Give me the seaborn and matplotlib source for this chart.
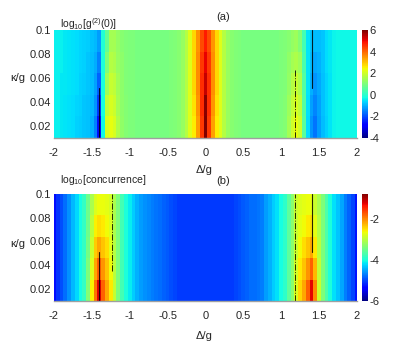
import matplotlib
matplotlib.use("Agg")
import numpy as np
import pandas as pd
import matplotlib.pyplot as plt
import seaborn as sns

sns.set_style("white")
plt.rcParams['font.family'] = ['Liberation Sans', 'DejaVu Sans']
plt.rcParams['mathtext.fontset'] = 'custom'
plt.rcParams['mathtext.rm'] = 'Liberation Sans'
plt.rcParams['mathtext.it'] = 'Liberation Sans'

# detuning grid (columns) and kappa bands (rows, top to bottom)
delta = [round(-2 + 0.05 * i, 2) for i in range(81)]
kappa_top = [0.1, 0.082, 0.064, 0.046, 0.028]
kappa_min = 0.01
kappa_step = 0.018

# (a) log10 g2(0), one row per kappa band
g2_rows = [
    [-0.4, -0.4, -0.4, -0.45, -0.5, -0.55, -0.6, -0.65, -0.7, -0.75,
     -0.85, -0.95, -1.2, -0.1, 0.7, 1.5, 1.5, 1.3, 1.15, 1.05,
     1.0, 1.0, 0.95, 0.95, 0.95, 0.95, 0.95, 0.95, 0.95, 0.95,
     0.95, 1.0, 1.05, 1.15, 1.35, 1.7, 2.2, 2.8, 3.5, 4.3,
     4.8, 4.3, 3.5, 2.8, 2.2, 1.7, 1.35, 1.15, 1.05, 1.0,
     0.95, 0.95, 0.95, 0.95, 0.95, 0.95, 0.95, 0.95, 0.95, 0.95,
     1.0, 1.05, 1.15, 1.3, 1.4, 1.1, 0.3, -0.5, -0.8, -0.9,
     -0.9, -0.8, -0.6, -0.45, -0.35, -0.3, -0.3, -0.3, -0.3, -0.3, -0.3],
    [-0.4, -0.4, -0.4, -0.45, -0.5, -0.55, -0.6, -0.65, -0.7, -0.8,
     -0.9, -1.05, -1.5, -0.15, 1.0, 1.7, 1.6, 1.35, 1.2, 1.05,
     1.0, 1.0, 0.95, 0.95, 0.95, 0.95, 0.95, 0.95, 0.95, 0.95,
     0.95, 1.0, 1.05, 1.15, 1.35, 1.7, 2.2, 2.8, 3.6, 4.5,
     5.1, 4.5, 3.6, 2.8, 2.2, 1.7, 1.35, 1.15, 1.05, 1.0,
     0.95, 0.95, 0.95, 0.95, 0.95, 0.95, 0.95, 0.95, 0.95, 0.95,
     1.0, 1.05, 1.25, 1.5, 1.6, 1.4, 0.4, -0.5, -0.9, -1.1,
     -1.0, -0.8, -0.6, -0.45, -0.35, -0.3, -0.3, -0.3, -0.3, -0.3, -0.3],
    [-0.4, -0.4, -0.45, -0.45, -0.5, -0.55, -0.6, -0.7, -0.75, -0.8,
     -0.9, -1.15, -1.8, -0.2, 1.4, 1.9, 1.8, 1.45, 1.2, 1.05,
     1.0, 1.0, 0.95, 0.95, 0.95, 0.95, 0.95, 0.95, 0.95, 0.95,
     0.95, 1.0, 1.05, 1.15, 1.35, 1.7, 2.2, 2.8, 3.6, 4.6,
     5.4, 4.6, 3.6, 2.8, 2.2, 1.7, 1.35, 1.15, 1.05, 1.0,
     0.95, 0.95, 0.95, 0.95, 0.95, 0.95, 0.95, 0.95, 0.95, 0.95,
     1.0, 1.05, 1.3, 1.7, 1.9, 1.6, 0.5, -0.5, -1.0, -1.3,
     -1.1, -0.85, -0.65, -0.5, -0.35, -0.3, -0.3, -0.3, -0.3, -0.3, -0.3],
    [-0.4, -0.4, -0.45, -0.5, -0.55, -0.6, -0.65, -0.7, -0.8, -0.85,
     -0.95, -1.3, -2.2, -0.25, 1.8, 2.1, 1.95, 1.5, 1.2, 1.1,
     1.0, 1.0, 0.95, 0.95, 0.95, 0.95, 0.95, 0.95, 0.95, 0.95,
     0.95, 1.0, 1.05, 1.15, 1.35, 1.7, 2.2, 2.7, 3.5, 4.6,
     5.9, 4.6, 3.5, 2.7, 2.2, 1.7, 1.35, 1.15, 1.05, 1.0,
     0.95, 0.95, 0.95, 0.95, 0.95, 0.95, 0.95, 0.95, 0.95, 0.95,
     1.0, 1.1, 1.4, 1.85, 2.1, 1.8, 0.55, -0.55, -1.15, -1.45,
     -1.15, -0.85, -0.65, -0.5, -0.35, -0.3, -0.3, -0.3, -0.3, -0.3, -0.3],
    [-0.4, -0.4, -0.45, -0.5, -0.55, -0.6, -0.7, -0.75, -0.8, -0.85,
     -1.0, -1.5, -2.6, -0.3, 2.1, 2.3, 2.1, 1.6, 1.25, 1.1,
     1.0, 1.0, 0.95, 0.95, 0.95, 0.95, 0.95, 0.95, 0.95, 0.95,
     0.95, 1.0, 1.05, 1.15, 1.35, 1.7, 2.2, 2.6, 3.4, 4.5,
     6.5, 4.5, 3.4, 2.6, 2.2, 1.7, 1.35, 1.15, 1.05, 1.0,
     0.95, 0.95, 0.95, 0.95, 0.95, 0.95, 0.95, 0.95, 0.95, 0.95,
     1.0, 1.1, 1.5, 2.0, 2.3, 2.0, 0.6, -0.6, -1.3, -1.6,
     -1.2, -0.9, -0.7, -0.5, -0.35, -0.3, -0.3, -0.3, -0.3, -0.3, -0.3],
]

# (b) log10 concurrence
conc_rows = [
    [-5.3, -5.1, -4.95, -4.8, -4.6, -4.4, -4.25, -4.05, -3.85, -3.5,
     -3.1, -2.8, -2.7, -2.7, -2.75, -2.85, -3.1, -3.4, -3.75, -4.0,
     -4.15, -4.3, -4.45, -4.55, -4.6, -4.65, -4.7, -4.75, -4.8, -4.85,
     -4.9, -4.95, -5.0, -5.05, -5.05, -5.05, -5.05, -5.05, -5.05, -5.05,
     -5.05, -5.05, -5.05, -5.05, -5.05, -5.05, -5.05, -5.05, -5.0, -4.95,
     -4.9, -4.85, -4.8, -4.8, -4.75, -4.7, -4.55, -4.45, -4.3, -4.2,
     -4.05, -3.9, -3.6, -3.3, -2.9, -2.8, -2.75, -2.7, -2.7, -2.9,
     -3.1, -3.4, -3.7, -4.0, -4.2, -4.35, -4.5, -4.7, -4.85, -5.0, -5.25],
    [-5.3, -5.1, -4.95, -4.8, -4.6, -4.4, -4.25, -4.05, -3.85, -3.5,
     -3.0, -2.6, -2.5, -2.55, -2.65, -2.8, -3.1, -3.4, -3.75, -4.0,
     -4.15, -4.3, -4.45, -4.55, -4.6, -4.65, -4.7, -4.75, -4.8, -4.85,
     -4.9, -4.95, -5.0, -5.05, -5.05, -5.05, -5.05, -5.05, -5.05, -5.05,
     -5.05, -5.05, -5.05, -5.05, -5.05, -5.05, -5.05, -5.05, -5.0, -4.95,
     -4.9, -4.85, -4.8, -4.8, -4.75, -4.7, -4.55, -4.45, -4.3, -4.2,
     -4.05, -3.9, -3.6, -3.3, -2.9, -2.75, -2.65, -2.55, -2.5, -2.75,
     -3.05, -3.4, -3.7, -4.0, -4.2, -4.35, -4.5, -4.7, -4.85, -5.0, -5.25],
    [-5.3, -5.1, -4.95, -4.8, -4.6, -4.4, -4.25, -4.05, -3.85, -3.45,
     -2.9, -2.4, -2.2, -2.35, -2.5, -2.75, -3.05, -3.4, -3.75, -4.0,
     -4.15, -4.3, -4.45, -4.55, -4.6, -4.65, -4.7, -4.75, -4.8, -4.85,
     -4.9, -4.95, -5.0, -5.05, -5.05, -5.05, -5.05, -5.05, -5.05, -5.05,
     -5.05, -5.05, -5.05, -5.05, -5.05, -5.05, -5.05, -5.05, -5.0, -4.95,
     -4.9, -4.85, -4.8, -4.8, -4.75, -4.7, -4.55, -4.45, -4.3, -4.2,
     -4.05, -3.9, -3.6, -3.3, -2.9, -2.65, -2.5, -2.35, -2.2, -2.55,
     -3.0, -3.4, -3.7, -4.0, -4.2, -4.35, -4.5, -4.7, -4.85, -5.0, -5.25],
    [-5.3, -5.1, -4.95, -4.8, -4.6, -4.4, -4.25, -4.05, -3.85, -3.4,
     -2.8, -2.2, -1.8, -2.1, -2.35, -2.65, -3.0, -3.4, -3.75, -4.0,
     -4.15, -4.3, -4.45, -4.55, -4.6, -4.65, -4.7, -4.75, -4.8, -4.85,
     -4.9, -4.95, -5.0, -5.05, -5.05, -5.05, -5.05, -5.05, -5.05, -5.05,
     -5.05, -5.05, -5.05, -5.05, -5.05, -5.05, -5.05, -5.05, -5.0, -4.95,
     -4.9, -4.85, -4.8, -4.8, -4.75, -4.7, -4.55, -4.45, -4.3, -4.2,
     -4.05, -3.9, -3.6, -3.3, -2.85, -2.55, -2.35, -2.1, -1.8, -2.3,
     -2.95, -3.4, -3.7, -4.0, -4.2, -4.35, -4.5, -4.7, -4.85, -5.0, -5.25],
    [-5.3, -5.1, -4.95, -4.8, -4.6, -4.4, -4.25, -4.05, -3.85, -3.35,
     -2.6, -1.9, -1.25, -1.8, -2.2, -2.55, -2.95, -3.4, -3.75, -4.0,
     -4.15, -4.3, -4.45, -4.55, -4.6, -4.65, -4.7, -4.75, -4.8, -4.85,
     -4.9, -4.95, -5.0, -5.05, -5.05, -5.05, -5.05, -5.05, -5.05, -5.05,
     -5.05, -5.05, -5.05, -5.05, -5.05, -5.05, -5.05, -5.05, -5.0, -4.95,
     -4.9, -4.85, -4.8, -4.8, -4.75, -4.7, -4.55, -4.45, -4.3, -4.2,
     -4.05, -3.9, -3.6, -3.3, -2.8, -2.45, -2.2, -1.8, -1.25, -2.0,
     -2.9, -3.4, -3.7, -4.0, -4.2, -4.35, -4.5, -4.7, -4.85, -5.0, -5.25],
]

# vertical guide lines: delta, kappa from, kappa to, style
lines_a = [(-1.41, 0.01, 0.0515, '-'), (1.18, 0.01, 0.0668, '-.'), (1.41, 0.0515, 0.1, '-')]
lines_b = [(-1.41, 0.01, 0.0515, '-'), (-1.24, 0.035, 0.1, '-.'),
           (1.18, 0.01, 0.1, '-.'), (1.41, 0.0515, 0.1, '-')]

xticks = [-2, -1.5, -1, -0.5, 0, 0.5, 1, 1.5, 2]
yticks = [0.02, 0.04, 0.06, 0.08, 0.1]


def dx(d):
    return (d - delta[0]) / 0.05 + 0.5


def ky(k):
    return (kappa_top[0] - k) / kappa_step


fig = plt.figure(figsize=(4.15, 3.46), dpi=100)
ax_a = fig.add_axes([0.130, 0.601, 0.730, 0.312])
cax_a = fig.add_axes([0.872, 0.601, 0.0145, 0.312])
ax_b = fig.add_axes([0.130, 0.130, 0.730, 0.310])
cax_b = fig.add_axes([0.872, 0.130, 0.0145, 0.310])

panels = [
    (ax_a, cax_a, g2_rows, -4, 6, [-4, -2, 0, 2, 4, 6], lines_a, '(a)',
     r'log$_{10}$[g$^{(2)}$(0)]', 1.02, 0.555, -0.296),
    (ax_b, cax_b, conc_rows, -6, -0.8, [-6, -4, -2], lines_b, '(b)',
     r'log$_{10}$[concurrence]', 1.10, 0.53, -0.326),
]

fs = 8
for ax, cax, rows, vmin, vmax, cticks, lines, tag, qty, qy, ly, lx in panels:
    df = pd.DataFrame(rows, index=kappa_top, columns=delta)
    sns.heatmap(df, ax=ax, cmap='jet', vmin=vmin, vmax=vmax, cbar_ax=cax,
                xticklabels=False, yticklabels=False)
    for d, k0, k1, ls in lines:
        ax.plot([dx(d), dx(d)], [ky(k0), ky(k1)], color='black',
                ls=ls, lw=0.8 if ls == '-' else 0.7, alpha=0.85)
    ax.set_xlim(dx(-2), dx(2))
    ax.set_ylim(ky(kappa_min), ky(0.1))
    ax.set_xticks([dx(t) for t in xticks])
    ax.set_xticklabels([f'{t:g}' for t in xticks], fontsize=fs)
    ax.set_yticks([ky(t) for t in yticks])
    ax.set_yticklabels([f'{t:g}' for t in yticks], fontsize=fs)
    ax.tick_params(length=0, pad=2)
    ax.tick_params(axis='x', pad=7)
    ax.spines['bottom'].set_visible(True)
    ax.spines['bottom'].set_color('#a0a0a0')
    ax.spines['bottom'].set_linewidth(1.0)
    ax.set_xlabel('Δ/g', fontsize=fs, va='center')
    ax.xaxis.set_label_coords(0.495, lx)
    ax.set_ylabel('κ/g', fontsize=fs, rotation=0, va='center', ha='center')
    ax.yaxis.set_label_coords(-0.12, ly)
    ax.text(0.558, 1.12, tag, transform=ax.transAxes, ha='center',
            va='center', fontsize=fs)
    ax.text(0.02, qy, qty, transform=ax.transAxes, ha='left',
            va='baseline', fontsize=fs - 0.5)
    cbar = ax.collections[0].colorbar
    cbar.set_ticks(cticks)
    cbar.set_ticklabels([str(t) for t in cticks])
    cbar.outline.set_visible(False)
    cax.tick_params(length=0, labelsize=fs, pad=1)

fig.savefig('out.png', dpi=100)
